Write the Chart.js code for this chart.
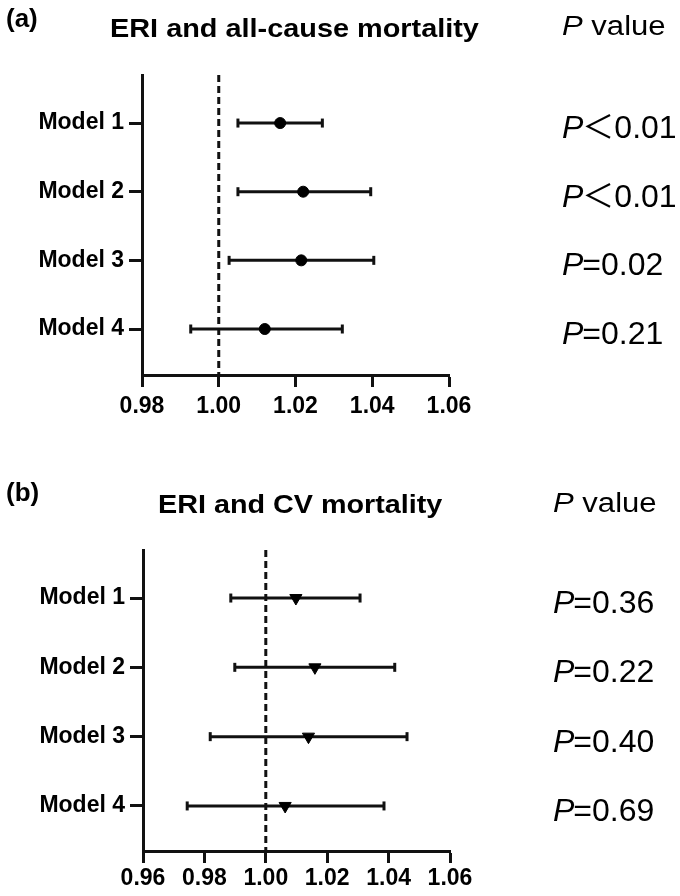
<!DOCTYPE html>
<html>
<head>
<meta charset="utf-8">
<script src="https://cdn.jsdelivr.net/npm/chart.js@4"></script>
<style>
  body { margin: 0; background: #fff; }
  #page { position: relative; width: 680px; height: 896px; overflow: hidden; font-family: "Liberation Sans", Arial, sans-serif; color: #000; }
  .panel { position: absolute; left: 0; width: 680px; height: 448px; }
  .txt { position: absolute; white-space: nowrap; line-height: 1; transform-origin: left top; }
  .lbl { font-weight: bold; font-size: 26px; }
  .title { font-weight: bold; font-size: 26px; }
  .head { font-size: 27px; transform: scaleX(1.15); }
  .head i { font-style: italic; }
</style>
</head>
<body>
<div id="page">
  <div class="panel" style="top:0"><canvas id="chartA"></canvas></div>
  <div class="panel" style="top:448px"><canvas id="chartB"></canvas></div>

  <div class="txt lbl" style="left:6px; top:5px">(a)</div>
  <div class="txt title" style="left:110px; top:15px; transform:scaleX(1.11)">ERI and all-cause mortality</div>
  <div class="txt head" style="left:562px; top:13px"><i>P</i> value</div>

  <div class="txt lbl" style="left:6px; top:479px">(b)</div>
  <div class="txt title" style="left:158px; top:492px; font-size:25px; transform:scaleX(1.15)">ERI and CV mortality</div>
  <div class="txt head" style="left:553px; top:490px"><i>P</i> value</div>
</div>
<script>
const models = ["Model 1", "Model 2", "Model 3", "Model 4"];

// (a) all-cause mortality
const allCauseEst = [1.016, 1.022, 1.0215, 1.012];
const allCauseLow = [1.005, 1.005, 1.0027, 0.9927];
const allCauseHigh = [1.027, 1.0396, 1.0404, 1.0322];
const allCauseP = ["＜0.01", "＜0.01", "=0.02", "=0.21"];
const xTicksA = [0.98, 1.00, 1.02, 1.04, 1.06];

// (b) CV mortality
const cvEst = [1.0098, 1.016, 1.0139, 1.0063];
const cvLow = [0.9886, 0.9899, 0.9819, 0.9744];
const cvHigh = [1.0307, 1.042, 1.046, 1.0385];
const cvP = ["=0.36", "=0.22", "=0.40", "=0.69"];
const xTicksB = [0.96, 0.98, 1.00, 1.02, 1.04, 1.06];

const refLine = 1.00;

// draws the P value column next to each model row
const pValuePlugin = {
    id: "pvalues",
    afterDraw(chart, args, opts) {
        const ctx = chart.ctx;
        const y = chart.scales.y;
        ctx.save();
        ctx.fillStyle = "#000";
        ctx.textBaseline = "alphabetic";
        opts.labels.forEach((txt, i) => {
            const py = y.getPixelForValue(i + 1) + 15;
            ctx.font = 'italic 32px "Liberation Sans", Arial';
            ctx.fillText("P", opts.x, py);
            const w = ctx.measureText("P").width;
            ctx.font = '32px "Liberation Sans", Arial, "Noto Sans CJK SC"';
            ctx.fillText(txt, opts.x + w - 1, py);
        });
        ctx.restore();
    }
};

function makeChart(id, est, low, high, pvals, xTicks, p) {
    const datasets = [];

    datasets.push({
        data: est.map((v, i) => ({ x: v, y: i + 1 })),
        showLine: false,
        pointStyle: p.marker,
        pointRotation: p.marker === "triangle" ? 180 : 0,
        pointRadius: p.marker === "triangle" ? 7 : 5.5,
        pointBackgroundColor: "#000",
        pointBorderColor: "#000",
        pointBorderWidth: 1
    });

    models.forEach((m, i) => {
        datasets.push({
            data: [{ x: low[i], y: i + 1 }, { x: high[i], y: i + 1 }],
            borderColor: "#111",
            borderWidth: 3,
            pointStyle: "line",
            pointRotation: 90,
            pointRadius: 4.5,
            pointBorderWidth: 3,
            pointBorderColor: "#111"
        });
    });

    datasets.push({
        data: [{ x: refLine, y: p.yMin }, { x: refLine, y: p.yMax }],
        borderColor: "#111",
        borderWidth: 3,
        borderDash: [7, 4],
        pointRadius: 0
    });

    return new Chart(document.getElementById(id), {
        type: "line",
        data: { datasets },
        plugins: [pValuePlugin],
        options: {
            responsive: true,
            maintainAspectRatio: false,
            animation: false,
            layout: { padding: { top: p.top, right: p.right, left: 0, bottom: 0 } },
            scales: {
                x: {
                    type: "linear",
                    min: xTicks[0],
                    max: xTicks[xTicks.length - 1],
                    afterBuildTicks: s => { s.ticks = xTicks.map(v => ({ value: v })); },
                    afterFit: s => { s.height = p.xHeight; },
                    ticks: {
                        color: "#000",
                        padding: p.xPad,
                        font: { family: "Liberation Sans", size: 23, weight: "bold" },
                        callback: v => v.toFixed(2)
                    },
                    grid: { drawOnChartArea: false, tickLength: 12, tickWidth: 3, tickColor: "#111" },
                    border: { color: "#111", width: 3 }
                },
                y: {
                    type: "linear",
                    reverse: true,
                    min: p.yMin,
                    max: p.yMax,
                    afterBuildTicks: s => { s.ticks = models.map((m, i) => ({ value: i + 1 })); },
                    afterFit: s => { s.width = p.yWidth; },
                    ticks: {
                        color: "#000",
                        padding: 5,
                        font: { family: "Liberation Sans", size: 23, weight: "bold" },
                        callback: v => models[v - 1]
                    },
                    grid: { drawOnChartArea: false, tickLength: 13, tickWidth: 3, tickColor: "#111" },
                    border: { color: "#111", width: 3 }
                }
            },
            plugins: {
                legend: { display: false },
                tooltip: { enabled: false },
                pvalues: { labels: pvals, x: p.pX }
            }
        }
    });
}

makeChart("chartA", allCauseEst, allCauseLow, allCauseHigh, allCauseP, xTicksA, {
    marker: "circle", top: 75, right: 231, xHeight: 73, yWidth: 142, xPad: 6,
    yMin: 0.30, yMax: 4.67, pX: 562
});

makeChart("chartB", cvEst, cvLow, cvHigh, cvP, xTicksB, {
    marker: "triangle", top: 102, right: 230, xHeight: 45, yWidth: 143, xPad: 2,
    yMin: 0.307, yMax: 4.65, pX: 553
});
</script>
</body>
</html>
